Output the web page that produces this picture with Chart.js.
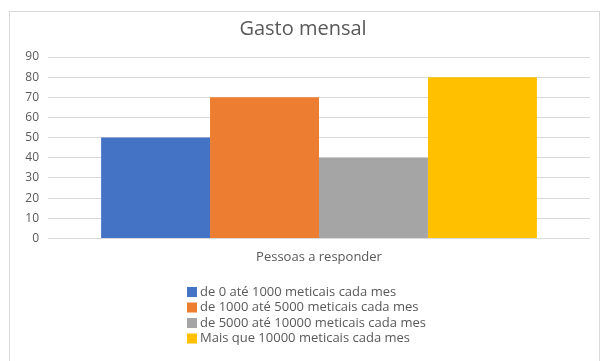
<!DOCTYPE html>
<html>
<head>
<meta charset="utf-8">
<title>Gasto mensal</title>
<script src="https://cdn.jsdelivr.net/npm/chart.js@4.4.1/dist/chart.umd.min.js"></script>
<style>
  html, body { margin: 0; padding: 0; background: #fff; }
  #wrap { position: relative; width: 602px; height: 361px; }
</style>
</head>
<body>
<div id="wrap"><canvas id="gasto"></canvas></div>
<script>
// Monthly spending survey
const categories = ['Pessoas a responder'];
const seriesNames = [
  'de 0 até 1000 meticais cada mes',
  'de 1000 até 5000 meticais cada mes',
  'de 5000 até 10000 meticais cada mes',
  'Mais que 10000 meticais cada mes'
];
const seriesValues = [50, 70, 40, 80];
const seriesColors = ['#4472C4', '#ED7D31', '#A5A5A5', '#FFC000'];
const yTicks = [0, 10, 20, 30, 40, 50, 60, 70, 80, 90];

const FONT = '"Open Sans", Lato, sans-serif';
const TEXT = '#595959';

// frame around the whole chart + white background
const framePlugin = {
  id: 'frame',
  beforeDraw(chart) {
    const ctx = chart.ctx;
    ctx.save();
    ctx.fillStyle = '#fff';
    ctx.fillRect(0, 0, chart.width, chart.height);
    ctx.strokeStyle = '#d9d9d9';
    ctx.lineWidth = 1;
    ctx.strokeRect(9.5, 11.5, 590, 360);
    ctx.restore();
  }
};

// legend stacked one entry per line under the axis
const stackedLegend = {
  id: 'stackedLegend',
  afterDraw(chart) {
    const ctx = chart.ctx;
    const x = 187, y0 = 292, step = 15.5;
    ctx.save();
    ctx.font = '13px ' + FONT;
    ctx.textBaseline = 'middle';
    ctx.textAlign = 'left';
    chart.data.datasets.forEach((ds, i) => {
      const y = y0 + i * step;
      ctx.fillStyle = ds.backgroundColor;
      ctx.fillRect(x, y - 5, 10, 10);
      ctx.fillStyle = TEXT;
      ctx.fillText(ds.label, x + 13, y);
    });
    ctx.restore();
  }
};

const datasets = seriesNames.map((name, i) => ({
  label: name,
  data: [seriesValues[i]],
  backgroundColor: seriesColors[i],
  borderWidth: 0,
  barPercentage: 1.0,
  categoryPercentage: 0.804
}));

new Chart(document.getElementById('gasto'), {
  type: 'bar',
  data: { labels: categories, datasets },
  options: {
    responsive: true,
    maintainAspectRatio: false,
    animation: false,
    layout: { padding: { top: 10, left: 16, right: 12, bottom: 85 } },
    plugins: {
      legend: { display: false },
      tooltip: { enabled: false },
      title: {
        display: true,
        text: 'Gasto mensal',
        color: TEXT,
        font: { family: FONT, size: 20, weight: 'normal' },
        padding: { top: 7, bottom: 16 }
      }
    },
    scales: {
      x: {
        grid: { display: false, drawTicks: false },
        border: { display: false },
        ticks: { color: TEXT, font: { family: FONT, size: 13 }, padding: 11 }
      },
      y: {
        min: 0,
        max: 90,
        afterBuildTicks: (s) => { s.ticks = yTicks.map(v => ({ value: v })); },
        afterFit: (s) => { s.width = 32; },
        grid: { color: '#d9d9d9', drawTicks: false },
        border: { display: false },
        ticks: { color: TEXT, font: { family: FONT, size: 12 }, padding: 9 }
      }
    }
  },
  plugins: [framePlugin, stackedLegend]
});
</script>
</body>
</html>
